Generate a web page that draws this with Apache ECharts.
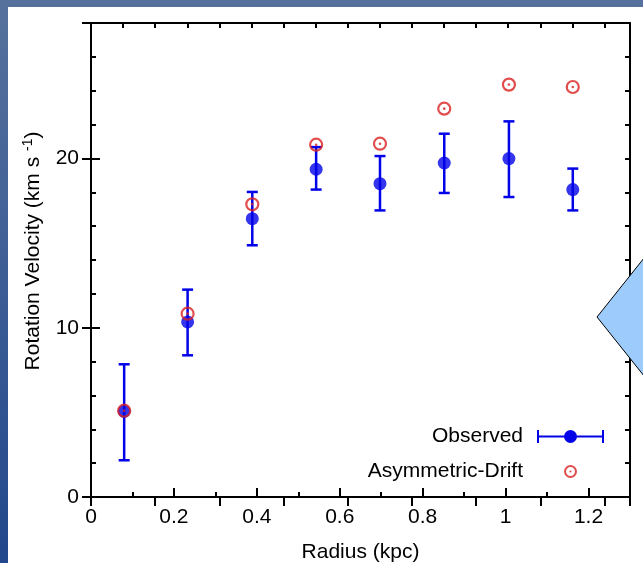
<!DOCTYPE html>
<html>
<head>
<meta charset="utf-8">
<script src="https://cdn.jsdelivr.net/npm/echarts@6/dist/echarts.min.js"></script>
<style>
  html, body { margin: 0; padding: 0; width: 643px; height: 563px; overflow: hidden; }
  body { position: relative; background: linear-gradient(to bottom, #56719c 0%, #3f5f96 45%, #22488c 100%); }
  #panel { position: absolute; left: 8px; top: 7px; right: 0; bottom: 0; background: #ffffff; }
  #chart { position: absolute; left: 0; top: 0; width: 643px; height: 563px; }
</style>
</head>
<body>
<div id="panel"></div>
<div id="chart"></div>
<script>
// Rotation curve: observed velocities with error bars and the asymmetric-drift corrected values
const radius = [0.080, 0.233, 0.389, 0.543, 0.697, 0.852, 1.008, 1.162];          // kpc
const observed = [5.06, 10.34, 16.44, 19.36, 18.51, 19.73, 19.99, 18.16];          // km/s
const observedLow = [2.17, 8.37, 14.87, 18.16, 16.93, 17.96, 17.72, 16.93];
const observedHigh = [7.84, 12.25, 18.02, 20.67, 20.14, 21.46, 22.19, 19.40];
const asymmetricDrift = [5.10, 10.83, 17.29, 20.81, 20.87, 22.94, 24.36, 24.22];

const xTickLabels = ['0', '0.2', '0.4', '0.6', '0.8', '1', '1.2'];
const yTickLabels = ['0', '10', '20'];

const X_MAX = 1.3;
const Y_MAX = 28;
const TOP_STEP = 0.1548; // kpc per major tick of the upper (angular) scale

const BLUE = '#0303e8';
const RED = '#da2020';
const FONT = '"Liberation Sans", Arial, Helvetica, sans-serif';

const errorData = radius.map((r, i) => [r, observedLow[i], observedHigh[i]]);
const observedData = radius.map((r, i) => [r, observed[i]]);
const driftData = radius.map((r, i) => [r, asymmetricDrift[i]]);

const frameLine = { show: true, onZero: false, lineStyle: { color: '#000', width: 2 } };
const noLine = { show: false };
const tick = (len) => ({ show: true, inside: true, length: len, lineStyle: { color: '#000', width: 2 } });
const MINOR = 5, MAJOR = 9;

// legend icons: horizontal error bar with a dot, and a ring with a centre dot
const obsIcon = 'path://M0,5.5H67V7.5H0Z M0,0H2V13H0Z M65,0H67V13H65Z ' +
  'M27,6.5A6.5,6.5 0 1,1 40,6.5A6.5,6.5 0 1,1 27,6.5Z';
const ringIcon = 'path://M0,7A7,7 0 1,1 14,7A7,7 0 1,1 0,7Z ' +
  'M2.2,7A4.8,4.8 0 1,0 11.8,7A4.8,4.8 0 1,0 2.2,7Z ' +
  'M5.8,7A1.2,1.2 0 1,1 8.2,7A1.2,1.2 0 1,1 5.8,7Z';

const chart = echarts.init(document.getElementById('chart'), null, { renderer: 'canvas' });

chart.setOption({
  animation: false,
  backgroundColor: 'transparent',
  textStyle: { fontFamily: FONT },
  grid: { left: 91, right: 13, top: 23, bottom: 66, containLabel: false, outerBoundsMode: 'none' },
  legend: {
    orient: 'vertical',
    align: 'right',
    right: 34,
    top: 421,
    itemWidth: 67,
    itemHeight: 13,
    itemGap: 14,
    selectedMode: false,
    symbolKeepAspect: true,
    textStyle: { fontFamily: FONT, fontSize: 21, color: '#000', padding: [0, 9, 0, 0] },
    data: [
      { name: 'Observed', icon: obsIcon, itemStyle: { color: BLUE, borderWidth: 0 } },
      { name: 'Asymmetric-Drift', icon: ringIcon, itemStyle: { color: RED, borderWidth: 0 } }
    ]
  },
  xAxis: [
    { type: 'value', position: 'bottom', min: 0, max: X_MAX, interval: 0.1,
      axisLine: frameLine, axisTick: tick(MINOR), axisLabel: { show: false }, splitLine: { show: false },
      name: 'Radius (kpc)', nameLocation: 'middle', nameGap: 45,
      nameTextStyle: { fontFamily: FONT, fontSize: 21, color: '#000' } },
    { type: 'value', position: 'bottom', min: 0, max: X_MAX, interval: 0.2,
      axisLine: noLine, axisTick: tick(MAJOR), splitLine: { show: false },
      axisLabel: {
        fontFamily: FONT, fontSize: 21, color: '#000', margin: 10, showMaxLabel: false,
        formatter: (v) => {
          const k = v * 5;
          return Math.abs(k - Math.round(k)) < 1e-6 ? (xTickLabels[Math.round(k)] || '') : '';
        }
      } },
    { type: 'value', position: 'top', min: 0, max: X_MAX / TOP_STEP, interval: 0.5,
      axisLine: frameLine, axisTick: tick(MINOR), axisLabel: { show: false }, splitLine: { show: false } },
    { type: 'value', position: 'top', min: 0, max: X_MAX / TOP_STEP, interval: 1,
      axisLine: noLine, axisTick: tick(MAJOR), axisLabel: { show: false }, splitLine: { show: false } }
  ],
  yAxis: [
    { type: 'value', position: 'left', min: 0, max: Y_MAX, interval: 2,
      axisLine: frameLine, axisTick: tick(MINOR), axisLabel: { show: false }, splitLine: { show: false },
      name: 'Rotation Velocity (km s {sup|-1})', nameLocation: 'middle', nameGap: 46,
      nameTextStyle: {
        fontFamily: FONT, fontSize: 21, color: '#000', padding: [0, 0, 0, 18],
        rich: { sup: { fontFamily: FONT, fontSize: 14, color: '#000', verticalAlign: 'top', padding: [0, 0, 10, 0] } }
      } },
    { type: 'value', position: 'left', min: 0, max: Y_MAX, interval: 10,
      axisLine: noLine, axisTick: tick(MAJOR), splitLine: { show: false },
      axisLabel: {
        fontFamily: FONT, fontSize: 21, color: '#000', margin: 12, showMaxLabel: false,
        formatter: (v) => (v % 10 === 0 ? (yTickLabels[v / 10] || '') : '')
      } },
    { type: 'value', position: 'right', min: 0, max: Y_MAX, interval: 2,
      axisLine: frameLine, axisTick: tick(MINOR), axisLabel: { show: false }, splitLine: { show: false } },
    { type: 'value', position: 'right', min: 0, max: Y_MAX, interval: 10,
      axisLine: noLine, axisTick: tick(MAJOR), axisLabel: { show: false }, splitLine: { show: false } }
  ],
  series: [
    {
      name: 'Observed',
      type: 'custom',
      xAxisIndex: 0, yAxisIndex: 0,
      data: errorData,
      encode: { x: 0, y: [1, 2] },
      silent: true,
      z: 2,
      renderItem: (params, api) => {
        const x = api.value(0);
        const lo = api.coord([x, api.value(1)]);
        const hi = api.coord([x, api.value(2)]);
        const hw = 5.5;
        const st = { stroke: BLUE, lineWidth: 2.5 };
        return {
          type: 'group',
          children: [
            { type: 'line', shape: { x1: lo[0], y1: lo[1], x2: hi[0], y2: hi[1] }, style: st },
            { type: 'line', shape: { x1: lo[0] - hw, y1: lo[1], x2: lo[0] + hw, y2: lo[1] }, style: st },
            { type: 'line', shape: { x1: hi[0] - hw, y1: hi[1], x2: hi[0] + hw, y2: hi[1] }, style: st }
          ]
        };
      }
    },
    {
      name: 'Observed',
      type: 'scatter',
      xAxisIndex: 0, yAxisIndex: 0,
      data: observedData,
      symbol: 'circle',
      symbolSize: 13,
      itemStyle: { color: BLUE },
      silent: true,
      z: 3
    },
    {
      name: 'Asymmetric-Drift',
      type: 'scatter',
      xAxisIndex: 0, yAxisIndex: 0,
      data: driftData,
      symbol: 'circle',
      symbolSize: 12,
      itemStyle: { color: 'rgba(0,0,0,0)', borderColor: RED, borderWidth: 2.2 },
      silent: true,
      z: 4
    },
    {
      name: 'Asymmetric-Drift',
      type: 'scatter',
      xAxisIndex: 0, yAxisIndex: 0,
      data: driftData,
      symbol: 'circle',
      symbolSize: 2.6,
      itemStyle: { color: RED },
      silent: true,
      z: 5
    }
  ],
  graphic: [
    {
      type: 'polygon',
      z: 100,
      silent: true,
      shape: { points: [[597, 317], [660, 238], [723, 317], [660, 396]] },
      style: { fill: '#9ccbfc', stroke: '#000', lineWidth: 1 }
    }
  ]
});
</script>
</body>
</html>
